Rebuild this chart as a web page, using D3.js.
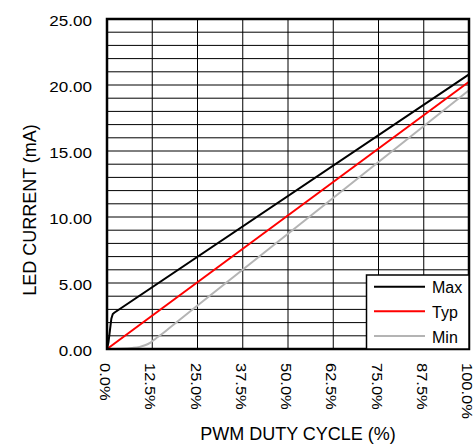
<!DOCTYPE html>
<html>
<head>
<meta charset="utf-8">
<script src="https://cdn.jsdelivr.net/npm/d3@7/dist/d3.min.js"></script>
<style>
  html, body { margin: 0; padding: 0; background: #fff; }
  svg { display: block; font-family: "Liberation Sans", Arial, sans-serif; }
</style>
</head>
<body>
<svg id="chart" width="476" height="444"></svg>
<script>
// PWM duty cycle (%) vs LED current (mA)
const maxDuty = [0, 0.4, 0.8, 1.2, 1.6, 2.0, 100];
const maxCurrent = [0, 0.5, 1.4, 2.3, 2.65, 2.75, 20.8];

const typDuty = [0, 100];
const typCurrent = [0, 20.25];

const minDuty = [0, 4, 7, 9, 10.5, 12, 13.5, 15, 17.5, 25, 100];
const minCurrent = [0, 0.02, 0.08, 0.16, 0.28, 0.48, 0.8, 1.1, 1.65, 3.3, 19.6];

const xTicks = [0, 12.5, 25, 37.5, 50, 62.5, 75, 87.5, 100];
const yTicks = [0, 5, 10, 15, 20, 25];
const yGrid = d3.range(0, 26, 1);

const seriesNames = ["Max", "Typ", "Min"];
const seriesColors = ["#000000", "#ff0000", "#b4b4b4"];

const svg = d3.select("#chart");
const m = { left: 107, right: 469, top: 19, bottom: 349 };

const x = d3.scaleLinear().domain([0, 100]).range([m.left, m.right]);
const y = d3.scaleLinear().domain([0, 25]).range([m.bottom, m.top]);

// grid
const grid = svg.append("g");
grid.selectAll("line.h").data(yGrid).join("line")
  .attr("x1", m.left).attr("x2", m.right)
  .attr("y1", d => y(d)).attr("y2", d => y(d))
  .attr("stroke", "#000").attr("stroke-width", 1);
grid.selectAll("line.v").data(xTicks).join("line")
  .attr("y1", m.top).attr("y2", m.bottom)
  .attr("x1", d => x(d)).attr("x2", d => x(d))
  .attr("stroke", "#000").attr("stroke-width", 1);

// series
const series = [
  { name: seriesNames[0], xs: maxDuty, ys: maxCurrent, color: seriesColors[0], curve: d3.curveLinear },
  { name: seriesNames[1], xs: typDuty, ys: typCurrent, color: seriesColors[1], curve: d3.curveLinear },
  { name: seriesNames[2], xs: minDuty, ys: minCurrent, color: seriesColors[2], curve: d3.curveMonotoneX }
];
svg.append("g").selectAll("path").data(series.slice().reverse()).join("path")
  .attr("d", s => d3.line().x(d => x(d[0])).y(d => y(d[1])).curve(s.curve)(s.xs.map((v, i) => [v, s.ys[i]])))
  .attr("fill", "none")
  .attr("stroke", s => s.color)
  .attr("stroke-width", 2);

// plot border
svg.append("rect")
  .attr("x", m.left).attr("y", m.top)
  .attr("width", m.right - m.left).attr("height", m.bottom - m.top)
  .attr("fill", "none").attr("stroke", "#000").attr("stroke-width", 2.5);

// y axis labels
svg.append("g").selectAll("text").data(yTicks).join("text")
  .attr("transform", d => `translate(92,${y(d) + 6.5}) scale(1.1,1)`)
  .attr("text-anchor", "end")
  .attr("font-size", 15.5)
  .text(d => d.toFixed(2));

// x axis labels, rotated
svg.append("g").selectAll("text").data(xTicks).join("text")
  .attr("transform", d => `translate(${x(d) - 7},363) rotate(90) scale(1.1,1)`)
  .attr("text-anchor", "start")
  .attr("font-size", 15)
  .text(d => d.toFixed(1) + "%");

// axis titles
svg.append("text")
  .attr("x", 298).attr("y", 440)
  .attr("text-anchor", "middle").attr("font-size", 18)
  .text("PWM DUTY CYCLE (%)");
svg.append("text")
  .attr("transform", `translate(36,210) rotate(-90)`)
  .attr("text-anchor", "middle").attr("font-size", 18)
  .text("LED CURRENT (mA)");

// legend
const lg = svg.append("g");
lg.append("rect")
  .attr("x", 366.5).attr("y", 275)
  .attr("width", m.right - 366.5).attr("height", m.bottom - 275)
  .attr("fill", "#fff").attr("stroke", "#000").attr("stroke-width", 1.5);
const rows = lg.selectAll("g").data(series).join("g")
  .attr("transform", (d, i) => `translate(0,${286.7 + i * 24.6})`);
rows.append("line")
  .attr("x1", 374).attr("x2", 425)
  .attr("stroke", d => d.color).attr("stroke-width", 2);
rows.append("text")
  .attr("x", 432).attr("y", 6.6)
  .attr("font-size", 16)
  .text(d => d.name);
</script>
</body>
</html>
